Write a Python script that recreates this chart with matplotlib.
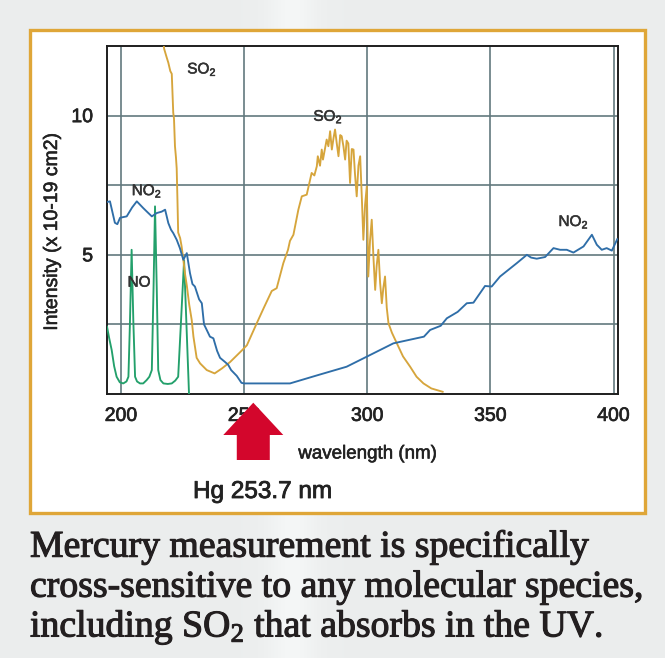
import numpy as np
import matplotlib
matplotlib.use("Agg")
import matplotlib.pyplot as plt
from matplotlib.patches import Rectangle, Polygon
import matplotlib.patheffects as pe

plt.rcParams["mathtext.default"] = "regular"

# ---- absorption cross-section data (wavelength nm, intensity x1e-19 cm2) ----
no2_wl = [194.5, 195.5, 197.5, 198.5, 199.6, 202.3, 204.5, 206.4, 209.0, 210.5,
          212.5, 214.5, 216.5, 217.9, 219.2, 220.3, 221.2, 222.6, 223.9, 225.3,
          226.7, 228.0, 229.0, 230.0, 231.7, 232.8, 233.7, 234.8, 236.1, 237.5,
          239.0, 240.2, 242.1, 243.5, 244.7, 247.0, 248.9, 250.0, 268.6, 280.0,
          291.6, 298.4, 310.6, 323.0, 325.5, 329.8, 332.3, 336.7, 340.4, 343.1,
          347.8, 350.5, 353.9, 357.3, 360.7, 364.8, 366.5, 368.8, 372.2, 375.6,
          378.3, 381.0, 383.7, 387.8, 391.2, 393.2, 395.2, 397.2, 399.3, 401.5]
no2_val = [6.90, 6.92, 6.15, 6.10, 6.33, 6.38, 6.70, 6.92, 6.68, 6.55,
           6.38, 6.50, 6.55, 6.62, 6.14, 5.90, 5.78, 5.54, 5.24, 4.82,
           5.06, 4.34, 3.95, 3.86, 3.40, 3.26, 2.50, 2.30, 2.06, 2.00,
           1.55, 1.30, 1.16, 1.05, 0.86, 0.65, 0.40, 0.38, 0.38, 0.68,
           0.98, 1.28, 1.82, 2.06, 2.30, 2.45, 2.72, 2.95, 3.26, 3.28,
           3.88, 3.86, 4.22, 4.46, 4.70, 5.00, 4.90, 4.86, 4.92, 5.24,
           5.18, 5.18, 5.08, 5.30, 5.72, 5.36, 5.18, 5.24, 5.15, 5.56]

so2_wl = [216.8, 217.5, 218.5, 219.2, 220.0, 220.6, 220.9, 221.2, 221.5, 221.9,
          222.3, 222.6, 222.9, 223.2, 224.0, 224.6, 225.3, 226.0, 226.7, 227.7,
          228.7, 229.4, 230.7, 232.1, 234.8, 238.0, 241.0, 244.3, 248.9, 251.1,
          255.1, 258.0, 261.2, 263.2, 265.9, 267.8, 268.6, 270.0, 272.0, 273.4,
          275.4, 277.4, 278.5, 279.5, 279.9, 280.8, 281.5, 282.0, 283.5, 284.2,
          284.9, 285.6, 286.3, 286.9, 287.6, 288.3, 289.0, 289.6, 290.3, 291.0,
          291.6, 292.3, 293.0, 293.7, 294.4, 295.0, 295.7, 296.4, 297.1, 297.8,
          298.4, 299.1, 299.8, 300.4, 301.1, 301.8, 302.5, 303.2, 303.8, 304.5,
          305.2, 305.9, 306.5, 307.2, 307.9, 308.6, 310.0, 312.0, 314.5, 317.4,
          320.0, 322.8, 326.0, 330.6]
so2_val = [13.0, 12.4, 12.1, 11.9, 11.6, 11.5, 10.8, 10.1, 9.9, 8.9,
           8.5, 8.1, 7.0, 5.8, 5.6, 5.3, 4.82, 4.3, 3.9, 3.2,
           2.66, 2.06, 1.3, 1.1, 0.86, 0.74, 0.92, 1.15, 1.55, 1.75,
           2.54, 3.1, 3.7, 3.8, 4.7, 5.18, 5.5, 5.72, 6.62, 7.1,
           7.16, 7.94, 7.85, 8.18, 8.54, 8.2, 8.78, 8.42, 9.14, 8.9,
           9.44, 8.78, 9.2, 9.5, 9.0, 8.54, 9.3, 9.26, 8.9, 8.42,
           9.1, 9.0, 7.58, 8.8, 8.78, 7.9, 7.1, 8.2, 8.54, 7.0,
           5.54, 6.8, 7.46, 4.22, 5.5, 6.26, 4.9, 3.74, 4.6, 5.18,
           4.0, 3.26, 3.8, 4.22, 3.1, 2.54, 2.2, 1.82, 1.35, 0.98,
           0.62, 0.38, 0.2, 0.08]

no_wl = [194.3, 195.2, 196.2, 197.2, 198.2, 199.5, 200.9, 202.2, 203.0, 203.6,
         204.3, 205.0, 205.7, 206.5, 207.7, 209.0, 210.4, 211.5, 212.5, 213.2,
         213.8, 214.5, 215.1, 216.0, 217.2, 219.0, 220.6, 222.0, 223.2, 224.4,
         225.6, 226.6, 227.4, 227.6]
no_val = [2.42, 2.0, 1.58, 1.0, 0.62, 0.42, 0.38, 0.45, 0.62, 2.5,
          5.18, 2.6, 0.62, 0.45, 0.38, 0.38, 0.5, 0.62, 0.86, 3.8,
          6.74, 3.8, 0.86, 0.5, 0.38, 0.36, 0.38, 0.48, 0.62, 2.7,
          4.8, 2.4, 0.5, 0.0]

x_ticks = [200, 250, 300, 350, 400]
y_grid = [2.5, 5, 7.5, 10]
y_labels = ["", "5", "", "10"]
hg_line = 253.7

BLUE = "#2f6ea8"
GOLD = "#d6a53c"
GREEN = "#23a06b"
RED = "#d3062c"
FRAME = "#dfa638"
INK = "#222222"
SANS = ["Liberation Sans", "DejaVu Sans"]

W, H = 665, 658
fig = plt.figure(figsize=(W / 100, H / 100), dpi=100)


def fx(x):
    return x / W


def fy(y):
    return 1 - y / H


def heavy(color, lw=0.5):
    return [pe.withStroke(linewidth=lw, foreground=color)]


# soft grey backdrop with a lighter vertical band
bg = fig.add_axes([0, 0, 1, 1], zorder=-10)
bg.axis("off")
xs = np.arange(W)
band = 0.035 * np.exp(-((xs - 292) / 24.0) ** 2)
row = np.stack([0.925 + band, 0.933 + band, 0.933 + band], axis=-1)
img = np.clip(np.repeat(row[None, :, :], H, axis=0), 0, 1)
bg.imshow(img, extent=[0, 1, 0, 1], aspect="auto", interpolation="bilinear")
bg.set_xlim(0, 1)
bg.set_ylim(0, 1)
bg.add_patch(Rectangle((fx(30), fy(513)), fx(645 - 30), (513 - 30) / H,
                       facecolor="white", edgecolor=FRAME, linewidth=2.4))

# main chart
ax = fig.add_axes([fx(107), fy(394), fx(618 - 107), (394 - 46) / H])
ax.set_facecolor("white")
ax.plot(no_wl, no_val, color=GREEN, lw=1.35, zorder=3)
ax.plot(so2_wl, so2_val, color=GOLD, lw=1.35, zorder=4)
ax.plot(no2_wl, no2_val, color=BLUE, lw=1.35, zorder=5)

ax.set_xlim(194.3, 401.8)
ax.set_ylim(0, 12.5)
ax.set_xticks(x_ticks)
ax.set_xticklabels([str(v) for v in x_ticks], family=SANS, color=INK)
ax.set_yticks(y_grid)
ax.set_yticklabels(y_labels, family=SANS, color=INK)
ax.tick_params(length=0, labelsize=14, pad=10)
for t in ax.get_xticklabels() + ax.get_yticklabels():
    t.set_path_effects(heavy(INK))
ax.grid(True, color="#62797e", lw=1.2)
ax.set_axisbelow(True)
for s in ax.spines.values():
    s.set_color("#1e1e1e")
    s.set_linewidth(1.4)

lab = dict(family=SANS, color="#333333", fontsize=11, ha="center", va="center",
           zorder=6, path_effects=heavy("#333333", 0.4))
ax.text(232.9, 11.65, "SO$_2$", **lab)
ax.text(284.1, 9.95, "SO$_2$", **lab)
ax.text(210.5, 7.28, "NO$_2$", **lab)
ax.text(207.3, 4.0, "NO", **lab)
ax.text(383.8, 6.17, "NO$_2$", **lab)

fig.text(fx(52.5), fy(231.5), "Intensity (x 10-19 cm2)", rotation=90,
         ha="center", va="center", family=SANS, fontsize=14, color=INK,
         path_effects=heavy(INK, 0.4))
fig.text(fx(367.6), fy(454), "wavelength (nm)", ha="center", va="center",
         family=SANS, fontsize=13.5, color=INK, path_effects=heavy(INK, 0.4))

# Hg line marker arrow
fig.canvas.draw()
tip_x = ax.transData.transform((hg_line, 0))[0]
tip_y = 402.7
arrow_px = [(tip_x, tip_y), (tip_x + 30, 435), (tip_x + 16.5, 435),
            (tip_x + 16.5, 460), (tip_x - 16.5, 460), (tip_x - 16.5, 435),
            (tip_x - 30, 435)]
fig.patches.append(Polygon([(fx(a), fy(b)) for a, b in arrow_px], closed=True,
                           transform=fig.transFigure, facecolor=RED,
                           edgecolor="none", zorder=5))
fig.text(fx(193), fy(498), "Hg 253.7 nm", ha="left", va="baseline",
         family=SANS, fontsize=17.5, color=INK, path_effects=heavy(INK, 0.6))

# caption
cap_lines = ["Mercury measurement is specifically",
             "cross-sensitive to any molecular species,",
             "including SO$_2$ that absorbs in the UV."]
cap_base = [556.7, 596.7, 636.7]
cap = [fig.text(fx(30), fy(b), t, ha="left", va="baseline",
                family="Liberation Serif", fontsize=24, color="#231f20",
                path_effects=heavy("#231f20", 0.8))
       for t, b in zip(cap_lines, cap_base)]
renderer = fig.canvas.get_renderer()
w2 = cap[1].get_window_extent(renderer).width
for t in cap:
    t.set_fontsize(24 * 614 / w2)

fig.savefig("out.png", dpi=100)
